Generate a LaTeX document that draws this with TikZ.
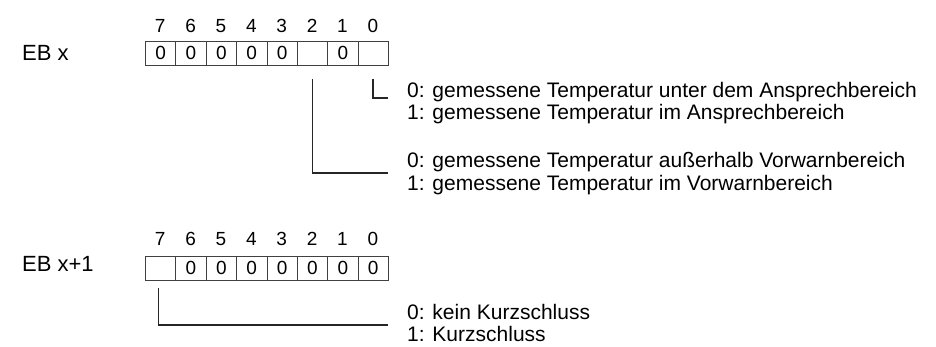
\documentclass[tikz,border=0pt]{standalone}
\usepackage{fontspec}
\setmainfont{Liberation Sans}
\begin{document}
\begin{tikzpicture}[x=1pt,y=-1pt,
  cell/.style={draw=black!75, line width=0.8pt, minimum width=30.375pt, minimum height=24pt, inner sep=0pt, anchor=north west, font=\fontsize{19}{19}\selectfont},
  bitnum/.style={inner sep=0pt, font=\fontsize{19}{19}\selectfont},
  reglabel/.style={inner sep=0pt, anchor=west, font=\fontsize{22}{22}\selectfont},
  desc/.style={inner sep=0pt, anchor=west, font=\fontsize{21}{21}\selectfont},
  conn/.style={line width=1.5pt, black!85}]
\useasboundingbox (0,0) rectangle (936,347);

% register EB x
\node[reglabel] (ebx) at (22,53) {EB x};
\foreach \i/\v in {7/0,6/0,5/0,4/0,3/0,2/,1/0,0/} {
  \pgfmathsetmacro\xx{145+(7-\i)*30.375}
  \node[cell] (t\i) at (\xx,41) {\v};
  \node[bitnum] (tn\i) at (\xx+15.19,26) {\i};
}

% register EB x+1
\node[reglabel] (ebx1) at (22,264) {EB x+1};
\foreach \i/\v in {7/,6/0,5/0,4/0,3/0,2/0,1/0,0/0} {
  \pgfmathsetmacro\xx{145+(7-\i)*30.375}
  \node[cell] (b\i) at (\xx,256) {\v};
  \node[bitnum] (bn\i) at (\xx+15.19,239) {\i};
}

% descriptions
\node[desc] (d0a) at (407,92) {0: gemessene Temperatur unter dem Ansprechbereich};
\node[desc] (d0b) at (407,114) {1: gemessene Temperatur im Ansprechbereich};
\node[desc] (d2a) at (407,162) {0: gemessene Temperatur außerhalb Vorwarnbereich};
\node[desc] (d2b) at (407,185) {1: gemessene Temperatur im Vorwarnbereich};
\node[desc] (d7a) at (407,312) {0: kein Kurzschluss};
\node[desc] (d7b) at (407,334) {1: Kurzschluss};

% connectors
\coordinate (c0) at (388,98);
\coordinate (c2) at (388,173);
\coordinate (c7) at (388,325);
\draw[conn] ([yshift=-13pt]t0.south) |- (c0);
\draw[conn] ([yshift=-13pt]t2.south) |- (c2);
\draw[conn] ([yshift=-7pt,xshift=-2pt]b7.south) |- (c7);
\end{tikzpicture}
\end{document}
